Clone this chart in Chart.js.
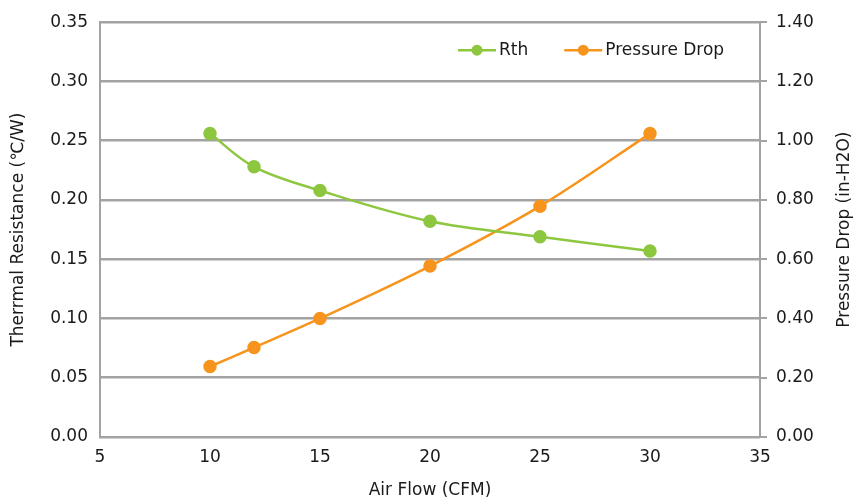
<!DOCTYPE html>
<html>
<head>
<meta charset="utf-8">
<script src="https://cdn.jsdelivr.net/npm/chart.js@4.4.0/dist/chart.umd.min.js"></script>
<style>
    html, body { margin: 0; padding: 0; background: #fff; }
    #wrap { width: 854px; height: 501px; position: relative; }
</style>
</head>
<body>
<div id="wrap"><canvas id="flowChart"></canvas></div>
<script>
// values
const airFlow = [10, 12, 15, 20, 25, 30];
const rthValues = [0.256, 0.228, 0.208, 0.182, 0.169, 0.157];
const pressureValues = [0.238, 0.302, 0.40, 0.577, 0.779, 1.024];
const rightTitle = 'Pressure Drop (in-H2O)';

const green = '#8dc63f';
const orange = '#f7941d';
const gridGray = '#a3a3a3';
const textColor = '#1a1a1a';
const fontFamily = '"DejaVu Sans", Verdana, sans-serif';
const fontSize = 17;

function toPoints(xs, ys) {
    return xs.map((x, i) => ({ x: x, y: ys[i] }));
}

// legend inside the plot (top right) and the right axis title read bottom-to-top
const extras = {
    id: 'extras',
    afterDraw(chart) {
        const ctx = chart.ctx;
        const area = chart.chartArea;
        let x = area.left + 358;
        const y = area.top + 28;
        ctx.save();
        ctx.font = fontSize + 'px ' + fontFamily;
        ctx.textBaseline = 'middle';
        chart.data.datasets.forEach((ds) => {
            ctx.strokeStyle = ds.borderColor;
            ctx.lineWidth = 2.5;
            ctx.beginPath();
            ctx.moveTo(x, y);
            ctx.lineTo(x + 38, y);
            ctx.stroke();
            ctx.fillStyle = ds.borderColor;
            ctx.beginPath();
            ctx.arc(x + 19, y, 5.5, 0, Math.PI * 2);
            ctx.fill();
            ctx.fillStyle = textColor;
            ctx.fillText(ds.label, x + 41, y);
            x += 41 + ctx.measureText(ds.label).width + 36;
        });

        ctx.translate(845, (area.top + area.bottom) / 2);
        ctx.rotate(-Math.PI / 2);
        ctx.textAlign = 'center';
        ctx.fillText(rightTitle, 0, 0);
        ctx.restore();
    }
};

const ctx = document.getElementById('flowChart').getContext('2d');
const flowChart = new Chart(ctx, {
    type: 'line',
    data: {
        datasets: [{
            label: 'Rth',
            data: toPoints(airFlow, rthValues),
            borderColor: green,
            backgroundColor: green,
            borderWidth: 2.5,
            pointRadius: 5.5,
            pointHoverRadius: 5.5,
            tension: 0.35,
            yAxisID: 'y'
        }, {
            label: 'Pressure Drop',
            data: toPoints(airFlow, pressureValues),
            borderColor: orange,
            backgroundColor: orange,
            borderWidth: 2.5,
            pointRadius: 5.5,
            pointHoverRadius: 5.5,
            tension: 0.35,
            yAxisID: 'y1'
        }]
    },
    options: {
        responsive: true,
        maintainAspectRatio: false,
        animation: false,
        layout: { padding: { top: 20 } },
        plugins: {
            legend: { display: false },
            tooltip: { enabled: false }
        },
        scales: {
            x: {
                type: 'linear',
                min: 5,
                max: 35,
                ticks: {
                    stepSize: 5,
                    padding: 10,
                    color: textColor,
                    font: { family: fontFamily, size: fontSize }
                },
                grid: { display: false, drawTicks: false },
                border: { color: gridGray, width: 2 },
                title: {
                    display: true,
                    text: 'Air Flow (CFM)',
                    color: textColor,
                    padding: { top: 18, bottom: 0 },
                    font: { family: fontFamily, size: fontSize }
                },
                afterFit(scale) { scale.height = 64; }
            },
            y: {
                position: 'left',
                min: 0,
                max: 0.35,
                ticks: {
                    stepSize: 0.05,
                    padding: 12,
                    color: textColor,
                    font: { family: fontFamily, size: fontSize },
                    callback: (v) => v.toFixed(2)
                },
                grid: { color: gridGray, lineWidth: 2.5, drawTicks: false },
                border: { color: gridGray, width: 2 },
                title: {
                    display: true,
                    text: 'Therrmal Resistance (\u2103/W)',
                    color: textColor,
                    padding: { top: 8, bottom: 4 },
                    font: { family: fontFamily, size: fontSize }
                },
                afterFit(scale) { scale.width = 100; }
            },
            y1: {
                position: 'right',
                min: 0,
                max: 1.4,
                ticks: {
                    stepSize: 0.2,
                    padding: 9,
                    color: textColor,
                    font: { family: fontFamily, size: fontSize },
                    callback: (v) => v.toFixed(2)
                },
                grid: { drawOnChartArea: false, color: gridGray, lineWidth: 2, tickLength: 7 },
                border: { color: gridGray, width: 2 },
                afterFit(scale) { scale.width = 94; }
            }
        }
    },
    plugins: [extras]
});
</script>
</body>
</html>
